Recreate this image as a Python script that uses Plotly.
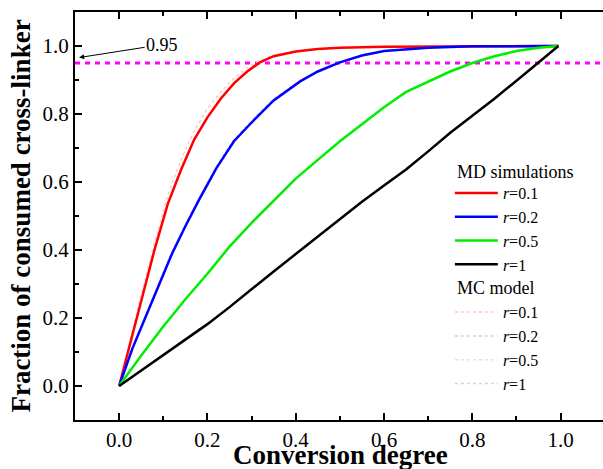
import plotly.graph_objects as go

# ---------------- data ----------------
red_x = [0, 0.02, 0.05, 0.08, 0.11, 0.14, 0.17, 0.20, 0.23, 0.26, 0.29, 0.32, 0.35, 0.40, 0.45, 0.50, 0.60, 0.70, 0.80, 0.90, 0.995]
red_y = [0, 0.10, 0.25, 0.40, 0.535, 0.635, 0.725, 0.79, 0.845, 0.89, 0.925, 0.953, 0.97, 0.984, 0.991, 0.995, 0.998, 0.999, 1.0, 1.0, 1.0]

blue_x = [0, 0.03, 0.075, 0.12, 0.15, 0.18, 0.22, 0.26, 0.30, 0.35, 0.41, 0.45, 0.50, 0.55, 0.60, 0.65, 0.70, 0.80, 0.90, 0.995]
blue_y = [0, 0.11, 0.25, 0.39, 0.47, 0.545, 0.64, 0.72, 0.775, 0.84, 0.896, 0.925, 0.952, 0.972, 0.985, 0.991, 0.995, 0.999, 1.0, 1.0]

green_x = [0, 0.05, 0.10, 0.15, 0.20, 0.25, 0.30, 0.35, 0.40, 0.45, 0.50, 0.55, 0.60, 0.65, 0.70, 0.75, 0.80, 0.85, 0.90, 0.95, 0.995]
green_y = [0, 0.09, 0.175, 0.255, 0.33, 0.41, 0.48, 0.545, 0.61, 0.665, 0.72, 0.77, 0.82, 0.865, 0.895, 0.925, 0.95, 0.97, 0.985, 0.995, 1.0]

black_x = [0, 0.05, 0.10, 0.15, 0.20, 0.25, 0.30, 0.35, 0.40, 0.45, 0.50, 0.55, 0.60, 0.65, 0.70, 0.75, 0.80, 0.85, 0.90, 0.95, 0.995]
black_y = [0, 0.045, 0.092, 0.137, 0.182, 0.232, 0.285, 0.337, 0.388, 0.44, 0.49, 0.542, 0.59, 0.637, 0.69, 0.745, 0.795, 0.845, 0.898, 0.952, 1.0]

# MC model curves (faint dotted, nearly on top of the MD curves)
mc_red_x = [0, 0.02, 0.05, 0.08, 0.11, 0.14, 0.17, 0.20, 0.23, 0.26, 0.29, 0.32, 0.35, 0.40, 0.45, 0.50, 0.60, 0.70, 0.80, 0.90, 0.995]
mc_red_y = [0, 0.11, 0.27, 0.42, 0.56, 0.665, 0.75, 0.815, 0.865, 0.905, 0.935, 0.958, 0.973, 0.986, 0.992, 0.995, 0.998, 0.999, 1.0, 1.0, 1.0]
mc_blue_x = blue_x
mc_blue_y = [0, 0.11, 0.255, 0.395, 0.475, 0.55, 0.645, 0.725, 0.78, 0.845, 0.898, 0.927, 0.953, 0.973, 0.985, 0.991, 0.995, 0.999, 1.0, 1.0]
mc_green_x = green_x
mc_green_y = [0, 0.09, 0.175, 0.255, 0.335, 0.41, 0.48, 0.548, 0.61, 0.667, 0.72, 0.772, 0.82, 0.862, 0.897, 0.927, 0.951, 0.971, 0.986, 0.995, 1.0]
mc_black_x = black_x
mc_black_y = [0, 0.047, 0.094, 0.14, 0.185, 0.234, 0.286, 0.338, 0.39, 0.441, 0.491, 0.542, 0.591, 0.639, 0.69, 0.744, 0.795, 0.846, 0.898, 0.951, 1.0]

labels = ["<i>r</i>=0.1", "<i>r</i>=0.2", "<i>r</i>=0.5", "<i>r</i>=1"]
md_colors = ["#ff0000", "#0000ff", "#00ee00", "#000000"]
mc_colors = ["#ffc8c8", "#c8c8ff", "#c8f5c8", "#d4d4d4"]
group_titles = ["MD simulations", "MC model"]
x_title = "Conversion degree"
y_title = "Fraction of consumed cross-linker"

threshold = 0.95
x_ticks = [0.0, 0.2, 0.4, 0.6, 0.8, 1.0]
y_ticks = [0.0, 0.2, 0.4, 0.6, 0.8, 1.0]

FONT = "Liberation Serif"

fig = go.Figure()

md_sets = [(red_x, red_y), (blue_x, blue_y), (green_x, green_y), (black_x, black_y)]
mc_sets = [(mc_red_x, mc_red_y), (mc_blue_x, mc_blue_y), (mc_green_x, mc_green_y), (mc_black_x, mc_black_y)]

# MC first (drawn underneath), legend order via legendrank
for i, (xs, ys) in enumerate(mc_sets):
    fig.add_trace(go.Scatter(
        x=xs, y=ys, mode="lines", name=labels[i],
        line=dict(color=mc_colors[i], width=1.5, dash="dot"),
        legendgroup="mc", legendrank=10 + i,
    ))
for i, (xs, ys) in enumerate(md_sets):
    fig.add_trace(go.Scatter(
        x=xs, y=ys, mode="lines", name=labels[i],
        line=dict(color=md_colors[i], width=2.5),
        legendgroup="md", legendrank=1 + i,
    ))

# threshold line
fig.add_shape(type="line", xref="paper", x0=0, x1=1, yref="y", y0=threshold, y1=threshold,
              line=dict(color="#ff00ff", width=3, dash="5px,5px"), layer="below")

fig.add_annotation(x=-0.0906, y=0.966, xref="x", yref="y", text="0.95",
                   showarrow=True, ax=83, ay=-13, arrowhead=2, arrowsize=1, arrowwidth=1,
                   arrowcolor="black", font=dict(family=FONT, size=18, color="black"))

# legend group headings
for txt, yp in zip(group_titles, [0.608, 0.323]):
    fig.add_annotation(x=0.7197, y=yp, xref="paper", yref="paper", text=txt, showarrow=False,
                       xanchor="left", yanchor="middle", font=dict(family=FONT, size=18, color="black"))

# x-axis title placed just below the tick labels (descenders cut by the page edge, as in the reference)
fig.add_annotation(x=0.503, y=0, xref="paper", yref="paper", text=f"<b>{x_title}</b>", showarrow=False,
                   xanchor="center", yanchor="top", yshift=-18,
                   font=dict(family=FONT, size=27, color="black"))

axis_common = dict(
    showgrid=False, zeroline=False, showline=True, linecolor="black", linewidth=2,
    ticks="inside", ticklen=7, tickwidth=1.5, tickcolor="black",
    tickfont=dict(family=FONT, size=21, color="black"),
    automargin=False,
)

fig.update_layout(
    width=603, height=469,
    margin=dict(l=75, r=0, t=12, b=49),
    paper_bgcolor="white", plot_bgcolor="white",
    font=dict(family=FONT, color="black"),
    showlegend=True,
    legend=dict(x=0.71, y=0.598, xanchor="left", yanchor="top",
                bgcolor="rgba(0,0,0,0)", borderwidth=0,
                font=dict(family=FONT, size=16, color="black"),
                traceorder="grouped", tracegroupgap=24, itemwidth=43),
    xaxis=dict(
        range=[-0.1, 1.096], tickvals=x_ticks, ticktext=[f"{v:.1f}" for v in x_ticks],
        mirror="ticks",
        minor=dict(ticks="inside", ticklen=4, tickwidth=1.5, tickcolor="black", dtick=0.1, tick0=0),
        **axis_common,
    ),
    yaxis=dict(
        range=[-0.1, 1.1], tickvals=y_ticks, ticktext=[f"{v:.1f}" for v in y_ticks],
        mirror=False,
        minor=dict(ticks="inside", ticklen=4, tickwidth=1.5, tickcolor="black", dtick=0.1, tick0=0),
        title=dict(text=f"<b>{y_title}</b>", font=dict(family=FONT, size=27, color="black"), standoff=4),
        **axis_common,
    ),
    yaxis2=dict(
        overlaying="y", side="right", matches="y", showline=False, showgrid=False, zeroline=False,
        ticks="inside", ticklen=7, tickwidth=1.5, tickcolor="black", tickvals=y_ticks,
        showticklabels=False, automargin=False,
        minor=dict(ticks="inside", ticklen=4, tickwidth=1.5, tickcolor="black", dtick=0.1, tick0=0),
    ),
)

fig.write_html("out.html")
